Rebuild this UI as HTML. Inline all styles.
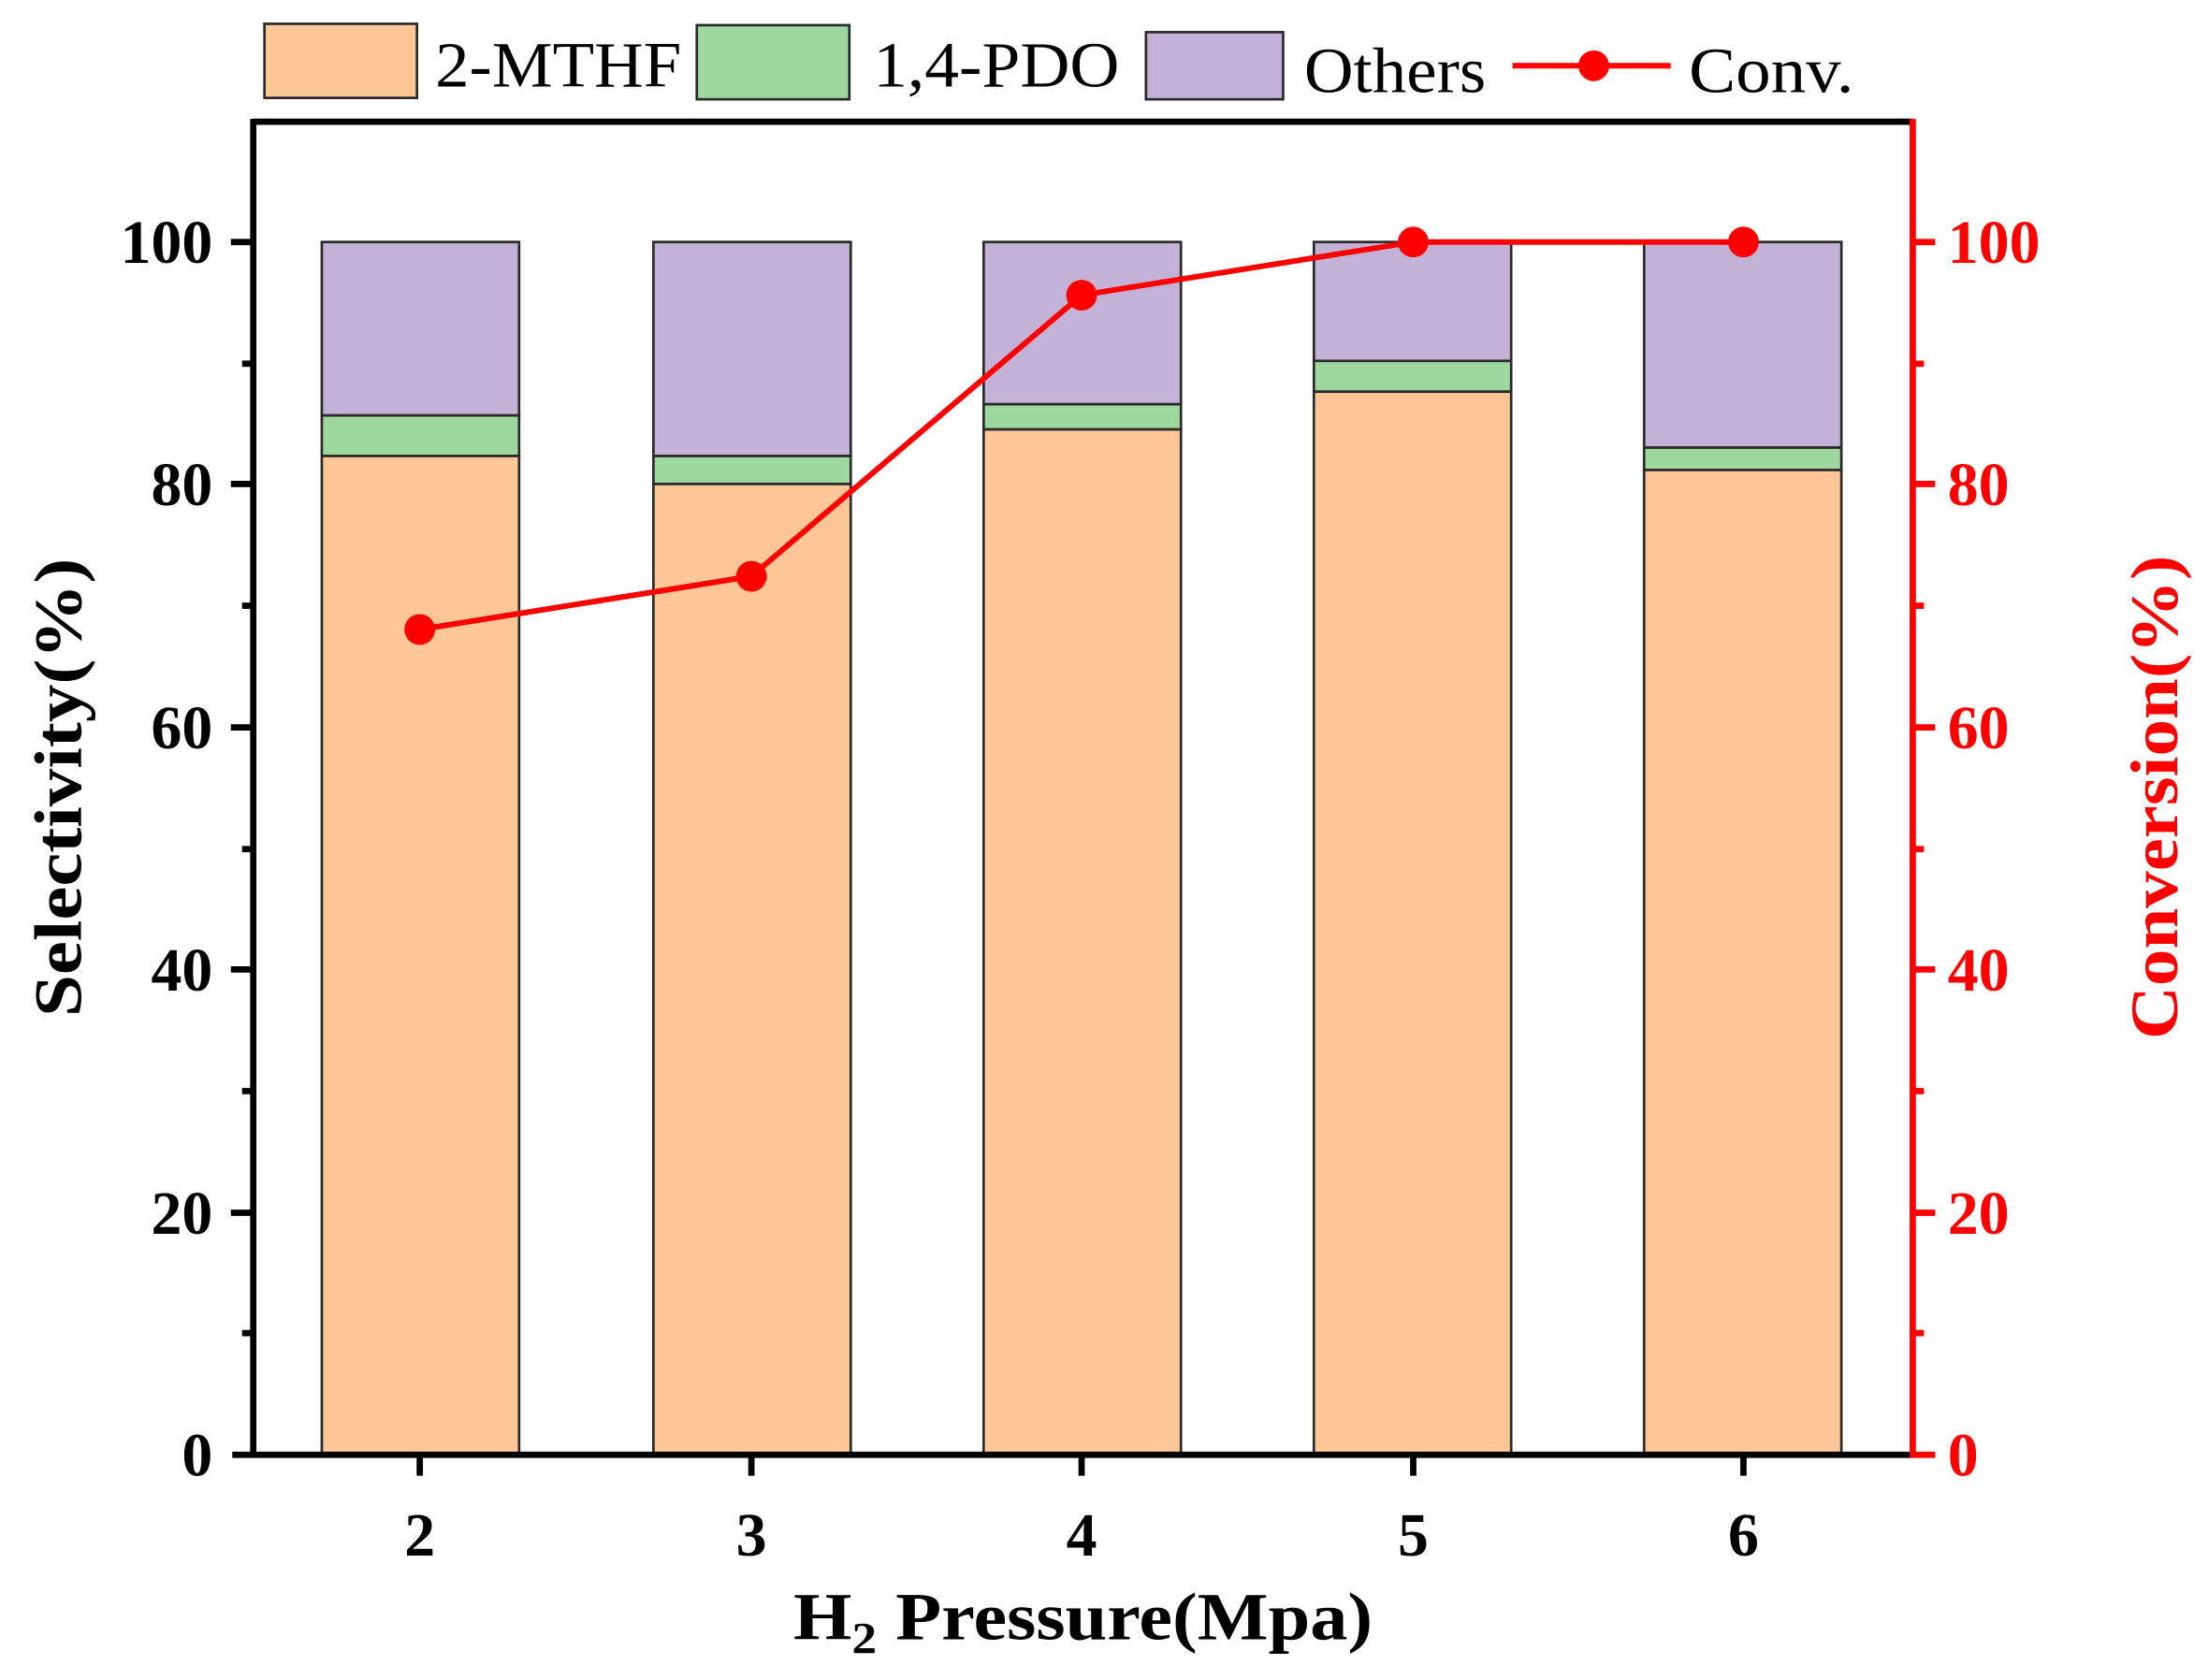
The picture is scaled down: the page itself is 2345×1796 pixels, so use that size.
<!DOCTYPE html>
<html><head><meta charset="utf-8"><style>html,body{margin:0;padding:0;background:#fff}svg{display:block}</style></head>
<body>
<svg width="2345" height="1796" viewBox="0 0 1568 1201" preserveAspectRatio="none" xmlns="http://www.w3.org/2000/svg" font-family="'Liberation Serif', serif">
<rect width="1568" height="1201" fill="#fff"/>
<!-- bars -->
<g stroke="#2a2a2a" stroke-width="1.8">
<rect x="230" y="173" width="141" height="124" fill="#c3b1d6"/>
<rect x="230" y="297" width="141" height="29" fill="#9fd89f"/>
<rect x="230" y="326" width="141" height="714" fill="#fdc797"/>
<rect x="467" y="173" width="141" height="153" fill="#c3b1d6"/>
<rect x="467" y="326" width="141" height="20" fill="#9fd89f"/>
<rect x="467" y="346" width="141" height="694" fill="#fdc797"/>
<rect x="703" y="173" width="141" height="116" fill="#c3b1d6"/>
<rect x="703" y="289" width="141" height="18" fill="#9fd89f"/>
<rect x="703" y="307" width="141" height="733" fill="#fdc797"/>
<rect x="939" y="173" width="141" height="85" fill="#c3b1d6"/>
<rect x="939" y="258" width="141" height="22" fill="#9fd89f"/>
<rect x="939" y="280" width="141" height="760" fill="#fdc797"/>
<rect x="1175" y="173" width="141" height="147" fill="#c3b1d6"/>
<rect x="1175" y="320" width="141" height="16" fill="#9fd89f"/>
<rect x="1175" y="336" width="141" height="704" fill="#fdc797"/>
</g>
<!-- axes -->
<g stroke="#000" stroke-width="4.5">
<line x1="181" y1="87" x2="1367" y2="87"/>
<line x1="181" y1="85" x2="181" y2="1042"/>
<line x1="166" y1="1040" x2="1367" y2="1040"/>
<line x1="165" y1="173" x2="181" y2="173"/><line x1="165" y1="346" x2="181" y2="346"/><line x1="165" y1="520" x2="181" y2="520"/><line x1="165" y1="693" x2="181" y2="693"/><line x1="165" y1="867" x2="181" y2="867"/>
<line x1="173" y1="260" x2="181" y2="260"/><line x1="173" y1="433" x2="181" y2="433"/><line x1="173" y1="607" x2="181" y2="607"/><line x1="173" y1="780" x2="181" y2="780"/><line x1="173" y1="953" x2="181" y2="953"/>
<line x1="300" y1="1040" x2="300" y2="1055"/><line x1="537" y1="1040" x2="537" y2="1055"/><line x1="773" y1="1040" x2="773" y2="1055"/><line x1="1010" y1="1040" x2="1010" y2="1055"/><line x1="1246" y1="1040" x2="1246" y2="1055"/>
</g>
<g stroke="#f00" stroke-width="4.5">
<line x1="1367" y1="85" x2="1367" y2="1042"/>
<line x1="1367" y1="173" x2="1383" y2="173"/><line x1="1367" y1="346" x2="1383" y2="346"/><line x1="1367" y1="520" x2="1383" y2="520"/><line x1="1367" y1="693" x2="1383" y2="693"/><line x1="1367" y1="867" x2="1383" y2="867"/><line x1="1367" y1="1040" x2="1383" y2="1040"/>
<line x1="1367" y1="260" x2="1375" y2="260"/><line x1="1367" y1="433" x2="1375" y2="433"/><line x1="1367" y1="607" x2="1375" y2="607"/><line x1="1367" y1="780" x2="1375" y2="780"/><line x1="1367" y1="953" x2="1375" y2="953"/>
</g>
<!-- conversion line -->
<polyline points="300,450 537,412 773,211 1010,173 1246,173" fill="none" stroke="#f00" stroke-width="4"/>
<g fill="#f00"><circle cx="300" cy="450" r="11"/><circle cx="537" cy="412" r="11"/><circle cx="773" cy="211" r="11"/><circle cx="1010" cy="173" r="11"/><circle cx="1246" cy="173" r="11"/></g>
<!-- tick labels -->
<g font-weight="bold" font-size="44" text-anchor="end" fill="#000">
<text x="152" y="188">100</text><text x="152" y="361">80</text><text x="152" y="535">60</text><text x="152" y="708">40</text><text x="152" y="882">20</text><text x="152" y="1055">0</text>
</g>
<g font-weight="bold" font-size="44" text-anchor="start" fill="#f00">
<text x="1392" y="188">100</text><text x="1392" y="361">80</text><text x="1392" y="535">60</text><text x="1392" y="708">40</text><text x="1392" y="882">20</text><text x="1392" y="1055">0</text>
</g>
<g font-weight="bold" font-size="44" text-anchor="middle">
<text x="300" y="1112">2</text><text x="537" y="1112">3</text><text x="773" y="1112">4</text><text x="1010" y="1112">5</text><text x="1246" y="1112">6</text>
</g>
<!-- axis titles -->
<text x="567" y="1172" font-weight="bold" font-size="48" textLength="414" lengthAdjust="spacingAndGlyphs">H<tspan font-size="32" dy="10">2</tspan><tspan dy="-10"> Pressure(Mpa)</tspan></text>
<text transform="translate(58,563) rotate(-90)" text-anchor="middle" font-weight="bold" font-size="48" textLength="328" lengthAdjust="spacingAndGlyphs">Selectivity(%)</text>
<text transform="translate(1556,570) rotate(-90)" text-anchor="middle" font-weight="bold" font-size="48" fill="#f00" textLength="346" lengthAdjust="spacingAndGlyphs">Conversion(%)</text>
<!-- legend -->
<g stroke="#2a2a2a" stroke-width="1.8">
<rect x="189" y="17" width="109" height="53" fill="#fdc797"/>
<rect x="498" y="18" width="109" height="53" fill="#9fd89f"/>
<rect x="819" y="23" width="98" height="48" fill="#c3b1d6"/>
</g>
<line x1="1081" y1="47" x2="1194" y2="47" stroke="#f00" stroke-width="4"/>
<circle cx="1139" cy="47" r="11" fill="#f00"/>
<g font-size="46" fill="#000">
<text x="311" y="62" textLength="176" lengthAdjust="spacingAndGlyphs">2-MTHF</text>
<text x="624" y="62" textLength="176" lengthAdjust="spacingAndGlyphs">1,4-PDO</text>
<text x="932" y="66" textLength="130" lengthAdjust="spacingAndGlyphs">Others</text>
<text x="1207" y="66" textLength="118" lengthAdjust="spacingAndGlyphs">Conv.</text>
</g>
</svg>
</body></html>
